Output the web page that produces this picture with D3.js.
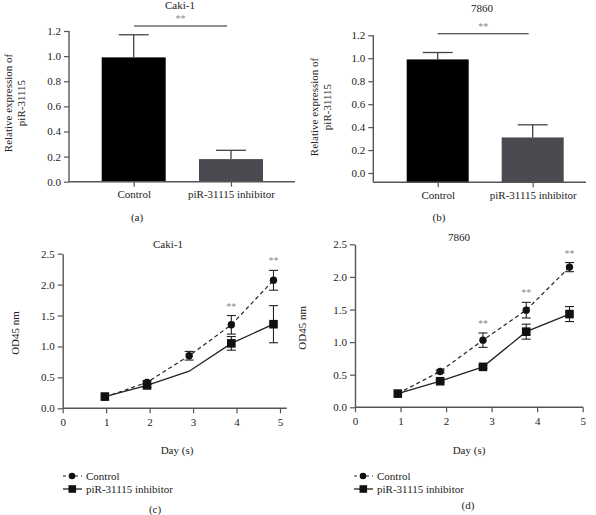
<!DOCTYPE html>
<html>
<head>
<meta charset="utf-8">
<script src="https://cdn.jsdelivr.net/npm/d3@7"></script>
<style>
  body { margin: 0; background: #fff; }
  svg text { font-family: "Liberation Serif", "DejaVu Serif", serif !important; fill: #222; }
</style>
</head>
<body>
<svg id="chart" width="596" height="515"></svg>
<script>
// ---------- data ----------
const barCategories = ["Control", "piR-31115 inhibitor"];
const barValuesCaki = [0.99, 0.18];
const barErrorsCaki = [0.18, 0.07];
const barValues7860 = [0.99, 0.31];
const barErrors7860 = [0.06, 0.11];
const barTicks = [0, 0.2, 0.4, 0.6, 0.8, 1.0, 1.2];

const seriesNames = ["Control", "piR-31115 inhibitor"];
const daysCaki = [0.97, 1.94, 2.91, 3.88, 4.85];
const controlCaki = [0.18, 0.42, 0.85, 1.35, 2.07];
const controlCakiErr = [0, 0.03, 0.07, 0.15, 0.16];
const inhibitorCaki = [0.19, 0.37, 0.60, 1.05, 1.36];
const inhibitorCakiErr = [0, 0.03, 0, 0.11, 0.30];
const inhibitorCakiMarker = [true, true, false, true, true];
const sigCaki = [false, false, false, true, true];

const days7860 = [0.94, 1.87, 2.81, 3.76, 4.71];
const control7860 = [0.21, 0.55, 1.03, 1.49, 2.15];
const control7860Err = [0, 0.02, 0.11, 0.12, 0.07];
const inhibitor7860 = [0.21, 0.40, 0.62, 1.16, 1.43];
const inhibitor7860Err = [0, 0.02, 0.02, 0.115, 0.115];
const inhibitor7860Marker = [true, true, true, true, true];
const sig7860 = [false, false, true, true, true];

const dayTicks = [0, 1, 2, 3, 4, 5];
const odTicks = [0, 0.5, 1.0, 1.5, 2.0, 2.5];

const svg = d3.select("#chart");
const AXIS = "#555";
const FS = 11;
const SERIF = '"Liberation Serif", "DejaVu Serif", serif';

function styleAxis(g) {
  g.attr("font-family", SERIF).attr("font-size", FS);
  g.selectAll("path.domain").attr("stroke", AXIS).attr("stroke-width", 1.4);
  g.selectAll(".tick line").attr("stroke", AXIS).attr("stroke-width", 1.2);
  g.selectAll(".tick text").attr("font-size", FS).attr("fill", "#222")
    .attr("font-family", SERIF);
}

// ---------- bar panel ----------
function barPanel(o) {
  const g = svg.append("g");
  const y = d3.scaleLinear().domain([o.yMin, 1.2]).range([o.y0, o.y12]);
  const x = d3.scalePoint().domain(barCategories).range([o.cx1, o.cx2]);

  const ya = g.append("g").attr("transform", `translate(${o.axX},0)`)
    .call(d3.axisLeft(y).tickValues(barTicks).tickFormat(d3.format(".1f")).tickSizeOuter(0).tickSize(5).tickPadding(3));
  ya.select("path.domain").attr("d", `M0,${y(o.yMin)}V${y(1.2)}`);
  styleAxis(ya);

  const colors = ["#000", "#4a4b50"];
  g.selectAll("rect.bar").data(o.values).join("rect")
    .attr("x", (d, i) => x(barCategories[i]) - o.bw / 2)
    .attr("width", o.bw)
    .attr("y", d => y(d))
    .attr("height", d => y(o.yMin) - y(d))
    .attr("fill", (d, i) => colors[i]);

  o.values.forEach((v, i) => {
    const cx = x(barCategories[i]);
    g.append("line").attr("x1", cx).attr("x2", cx).attr("y1", y(v)).attr("y2", y(v + o.errors[i]))
      .attr("stroke", "#444").attr("stroke-width", 1.3);
    g.append("line").attr("x1", cx - 15).attr("x2", cx + 15).attr("y1", y(v + o.errors[i])).attr("y2", y(v + o.errors[i]))
      .attr("stroke", "#444").attr("stroke-width", 1.3);
  });

  const xa = g.append("g").attr("transform", `translate(0,${y(o.yMin)})`)
    .call(d3.axisBottom(x).tickSize(5).tickSizeOuter(0).tickPadding(4));
  xa.select("path.domain").attr("d", `M${o.axX},0H${o.axXEnd}`);
  styleAxis(xa);

  g.append("line").attr("x1", o.sig1).attr("x2", o.sig2).attr("y1", o.sigY).attr("y2", o.sigY)
    .attr("stroke", "#222").attr("stroke-width", 1.1);
  g.append("text").attr("x", (o.sig1 + o.sig2) / 2).attr("y", o.sigY - 4).attr("text-anchor", "middle")
    .attr("font-size", 10).style("fill", "#888").text("**");

  g.append("text").attr("x", o.titleX).attr("y", o.titleY).attr("text-anchor", "middle")
    .attr("font-size", FS).text(o.title);

  const lab = g.append("text").attr("transform", `translate(${o.labX},${o.labY}) rotate(-90)`)
    .attr("text-anchor", "middle").attr("font-size", FS);
  lab.append("tspan").attr("x", 0).attr("dy", 0).text("Relative expression of");
  lab.append("tspan").attr("x", 0).attr("dy", 13).text("piR-31115");

  g.append("text").attr("x", o.capX).attr("y", o.capY).attr("text-anchor", "middle")
    .attr("font-size", FS).text(o.caption);
}

barPanel({
  values: barValuesCaki, errors: barErrorsCaki, yMin: 0,
  y0: 181.7, y12: 31, cx1: 133.7, cx2: 231, bw: 64,
  axX: 69, axXEnd: 295,
  sig1: 134, sig2: 227, sigY: 26,
  title: "Caki-1", titleX: 180, titleY: 9,
  labX: 12, labY: 103, capX: 137, capY: 221, caption: "(a)"
});

barPanel({
  values: barValues7860, errors: barErrors7860, yMin: -0.08,
  y0: 182.2, y12: 35.3, cx1: 437.7, cx2: 532.7, bw: 62,
  axX: 373.3, axXEnd: 586,
  sig1: 437.7, sig2: 528.7, sigY: 33.7,
  title: "7860", titleX: 482, titleY: 12,
  labX: 318, labY: 107, capX: 439, capY: 221, caption: "(b)"
});

// ---------- line panel ----------
function linePanel(o) {
  const g = svg.append("g");
  const x = d3.scaleLinear().domain([0, 5]).range([o.x0, o.x5]);
  const y = d3.scaleLinear().domain([0, 2.5]).range([o.y0, o.y25]);

  const ya = g.append("g").attr("transform", `translate(${o.x0},0)`)
    .call(d3.axisLeft(y).tickValues(odTicks).tickFormat(d3.format(".1f")).tickSize(5).tickSizeOuter(0).tickPadding(3));
  styleAxis(ya);
  const xa = g.append("g").attr("transform", `translate(0,${o.y0})`)
    .call(d3.axisBottom(x).tickValues(dayTicks).tickFormat(d3.format("d")).tickSize(5).tickSizeOuter(0).tickPadding(5));
  xa.select("path.domain").attr("d", `M${o.x0},0H${o.xEnd}`);
  styleAxis(xa);

  const line = d3.line().x(d => x(d[0])).y(d => y(d[1]));
  const cData = o.days.map((d, i) => [d, o.control[i]]);
  const iData = o.days.map((d, i) => [d, o.inhibitor[i]]);

  g.append("path").attr("d", line(cData)).attr("fill", "none").attr("stroke", "#222")
    .attr("stroke-width", 1.2).attr("stroke-dasharray", "4,3");
  g.append("path").attr("d", line(iData)).attr("fill", "none").attr("stroke", "#222")
    .attr("stroke-width", 1.3);

  function errBar(xv, v, e) {
    if (!e) return;
    const cx = x(xv);
    g.append("line").attr("x1", cx).attr("x2", cx).attr("y1", y(v - e)).attr("y2", y(v + e))
      .attr("stroke", "#222").attr("stroke-width", 1.1);
    [v - e, v + e].forEach(t => g.append("line").attr("x1", cx - 4.5).attr("x2", cx + 4.5)
      .attr("y1", y(t)).attr("y2", y(t)).attr("stroke", "#222").attr("stroke-width", 1.1));
  }
  o.days.forEach((d, i) => { errBar(d, o.control[i], o.controlErr[i]); errBar(d, o.inhibitor[i], o.inhibitorErr[i]); });

  g.selectAll("rect.sq").data(iData.filter((d, i) => o.inhMarker[i])).join("rect")
    .attr("x", d => x(d[0]) - 4.3).attr("y", d => y(d[1]) - 4.3)
    .attr("width", 8.6).attr("height", 8.6).attr("fill", "#111");
  g.selectAll("circle.pt").data(cData).join("circle")
    .attr("cx", d => x(d[0])).attr("cy", d => y(d[1])).attr("r", 3.7).attr("fill", "#111");

  o.days.forEach((d, i) => {
    if (!o.sig[i]) return;
    g.append("text").attr("x", x(d)).attr("y", y(o.control[i] + o.controlErr[i]) - 6)
      .attr("text-anchor", "middle").attr("font-size", 10).style("fill", "#888").text("**");
  });

  g.append("text").attr("x", o.titleX).attr("y", o.titleY).attr("text-anchor", "middle")
    .attr("font-size", FS).text(o.title);
  g.append("text").attr("transform", `translate(${o.labX},${(o.y0 + o.y25) / 2 + 2}) rotate(-90)`)
    .attr("text-anchor", "middle").attr("font-size", FS).text("OD45 nm");
  g.append("text").attr("x", o.dayX).attr("y", 454).attr("text-anchor", "middle")
    .attr("font-size", FS).text("Day (s)");

  const lx = o.legX, ly = [476, 489];
  g.append("line").attr("x1", lx).attr("x2", lx + 19).attr("y1", ly[0]).attr("y2", ly[0])
    .attr("stroke", "#222").attr("stroke-width", 1.2).attr("stroke-dasharray", "3,3");
  g.append("circle").attr("cx", lx + 9).attr("cy", ly[0]).attr("r", 3.3).attr("fill", "#111");
  g.append("line").attr("x1", lx).attr("x2", lx + 19).attr("y1", ly[1]).attr("y2", ly[1])
    .attr("stroke", "#222").attr("stroke-width", 1.3);
  g.append("rect").attr("x", lx + 5.5).attr("y", ly[1] - 3.8).attr("width", 7.6).attr("height", 7.6).attr("fill", "#111");
  seriesNames.forEach((n, i) => g.append("text").attr("x", lx + 23).attr("y", ly[i] + 4)
    .attr("font-size", FS).text(n));

  g.append("text").attr("x", o.capX).attr("y", o.capY).attr("text-anchor", "middle")
    .attr("font-size", FS).text(o.caption);
}

linePanel({
  days: daysCaki, control: controlCaki, controlErr: controlCakiErr,
  inhibitor: inhibitorCaki, inhibitorErr: inhibitorCakiErr, inhMarker: inhibitorCakiMarker, sig: sigCaki,
  x0: 62.7, x5: 280, xEnd: 286.7, y0: 408.3, y25: 253.7,
  title: "Caki-1", titleX: 168, titleY: 248, labX: 19, dayX: 177,
  legX: 63, capX: 155, capY: 513, caption: "(c)"
});

linePanel({
  days: days7860, control: control7860, controlErr: control7860Err,
  inhibitor: inhibitor7860, inhibitorErr: inhibitor7860Err, inhMarker: inhibitor7860Marker, sig: sig7860,
  x0: 355, x5: 582.7, xEnd: 583, y0: 407.3, y25: 244.3,
  title: "7860", titleX: 459, titleY: 241, labX: 306, dayX: 469,
  legX: 354, capX: 468, capY: 509, caption: "(d)"
});
</script>
</body>
</html>
